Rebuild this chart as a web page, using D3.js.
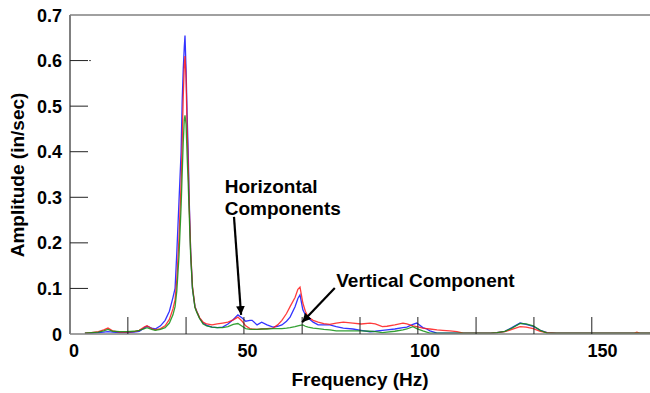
<!DOCTYPE html>
<html>
<head>
<meta charset="utf-8">
<script src="https://cdn.jsdelivr.net/npm/d3@7"></script>
<style>
  body { margin: 0; background: #fff; }
  text { font-family: "Liberation Sans", Arial, sans-serif; font-weight: bold; fill: #000; }
</style>
</head>
<body>
<div id="chart"></div>
<script>
// frequency grid (Hz)
var freq = [4.2, 6, 8, 9.5, 10.7, 12, 14, 16, 18, 19.5, 21, 21.7, 23, 24, 25.5, 26.8, 28, 29, 29.6, 30.1,
  30.7, 31.3, 31.6, 31.9, 32.2, 32.4, 32.7, 33, 33.3, 33.6, 34, 34.5, 35.2, 35.7, 36.5, 37.5, 38.5, 40, 41.5, 43,
  44.5, 46, 47.3, 48.5, 49.5, 50.7, 51.3, 52.7, 54, 55.5, 57.2, 58.5, 59.7, 61, 62, 63.4, 64.2, 64.8, 65.6, 66.3,
  67.1, 68.5, 69.9, 71.5, 73.2, 75, 77, 79.7, 82, 84.5, 86, 88, 89.3, 91.5, 93.8, 94.9, 96.6, 97.7, 99.4, 100.5,
  101.4, 103.4, 105, 107, 109, 110.8, 113, 116, 118.5, 120.3, 122.5, 124.5, 126.8, 128.5, 130.5, 132.5, 134.4, 137, 140, 145,
  150, 155, 159, 159.7, 160.5, 163.4];

// horizontal component 1 (blue)
var blueAmp = [0.002, 0.002, 0.003, 0.004, 0.005, 0.004, 0.003, 0.003, 0.004, 0.006, 0.014, 0.017, 0.013, 0.011, 0.018, 0.030, 0.050, 0.080, 0.100, 0.180,
  0.290, 0.400, 0.510, 0.580, 0.630, 0.655, 0.580, 0.480, 0.400, 0.290, 0.180, 0.100, 0.060, 0.050, 0.035, 0.024, 0.019, 0.015, 0.014, 0.015,
  0.022, 0.032, 0.042, 0.035, 0.028, 0.030, 0.030, 0.020, 0.026, 0.020, 0.015, 0.017, 0.020, 0.028, 0.037, 0.060, 0.078, 0.086, 0.053, 0.042,
  0.035, 0.026, 0.020, 0.020, 0.020, 0.016, 0.013, 0.011, 0.008, 0.005, 0.006, 0.008, 0.009, 0.011, 0.014, 0.015, 0.021, 0.024, 0.014, 0.011,
  0.007, 0.002, 0.002, 0.002, 0.002, 0.002, 0.002, 0.002, 0.002, 0.003, 0.006, 0.014, 0.024, 0.021, 0.017, 0.008, 0.003, 0.002, 0.002, 0.002,
  0.002, 0.002, 0.002, 0.002, 0.002, 0.002];

// horizontal component 2 (red)
var redAmp = [0.002, 0.003, 0.005, 0.009, 0.013, 0.007, 0.004, 0.004, 0.005, 0.008, 0.016, 0.018, 0.012, 0.009, 0.012, 0.018, 0.032, 0.055, 0.075, 0.120,
  0.210, 0.330, 0.420, 0.520, 0.590, 0.610, 0.560, 0.450, 0.370, 0.280, 0.180, 0.105, 0.060, 0.050, 0.036, 0.026, 0.022, 0.020, 0.022, 0.024,
  0.026, 0.031, 0.037, 0.028, 0.018, 0.012, 0.011, 0.010, 0.011, 0.012, 0.013, 0.020, 0.030, 0.045, 0.060, 0.080, 0.098, 0.103, 0.068, 0.050,
  0.037, 0.030, 0.026, 0.023, 0.021, 0.024, 0.026, 0.024, 0.022, 0.024, 0.022, 0.016, 0.017, 0.020, 0.024, 0.022, 0.018, 0.016, 0.013, 0.012,
  0.011, 0.009, 0.008, 0.007, 0.005, 0.002, 0.002, 0.002, 0.002, 0.003, 0.005, 0.010, 0.016, 0.015, 0.012, 0.006, 0.003, 0.002, 0.002, 0.002,
  0.002, 0.002, 0.002, 0.004, 0.002, 0.002];

// vertical component (green)
var greenAmp = [0.002, 0.003, 0.004, 0.007, 0.010, 0.006, 0.005, 0.005, 0.006, 0.008, 0.012, 0.014, 0.010, 0.008, 0.010, 0.014, 0.024, 0.042, 0.060, 0.095,
  0.170, 0.280, 0.350, 0.420, 0.470, 0.480, 0.460, 0.390, 0.330, 0.260, 0.170, 0.100, 0.058, 0.048, 0.034, 0.022, 0.018, 0.015, 0.014, 0.014,
  0.016, 0.021, 0.023, 0.017, 0.012, 0.010, 0.010, 0.010, 0.011, 0.011, 0.012, 0.012, 0.012, 0.013, 0.014, 0.016, 0.018, 0.019, 0.020, 0.017,
  0.015, 0.013, 0.012, 0.010, 0.009, 0.007, 0.007, 0.007, 0.007, 0.006, 0.005, 0.003, 0.004, 0.006, 0.009, 0.011, 0.016, 0.012, 0.007, 0.004,
  0.002, 0.002, 0.002, 0.002, 0.002, 0.002, 0.002, 0.002, 0.002, 0.003, 0.006, 0.013, 0.023, 0.022, 0.018, 0.008, 0.002, 0.002, 0.002, 0.002,
  0.002, 0.002, 0.002, 0.002, 0.002, 0.002];

var yTicks = [0, 0.1, 0.2, 0.3, 0.4, 0.5, 0.6, 0.7];
var xLabels = [0, 50, 100, 150];
var xMarks = [16.3, 32.7, 49, 65.4, 81.7, 98, 114.4, 130.7, 147];

var width = 650, height = 393;
var margin = {top: 15, right: 0, bottom: 59, left: 70};

var svg = d3.select("#chart").append("svg")
  .attr("width", width)
  .attr("height", height);

var x = d3.scaleLinear().domain([0, 163.4]).range([margin.left, width - margin.right]);
var y = d3.scaleLinear().domain([0, 0.7]).range([height - margin.bottom, margin.top]);

svg.append("defs").append("clipPath").attr("id", "clip")
  .append("rect")
  .attr("x", margin.left).attr("y", margin.top - 2)
  .attr("width", width - margin.left).attr("height", height - margin.bottom - margin.top + 2);

// frame line on top
svg.append("line")
  .attr("x1", x(0)).attr("x2", width).attr("y1", y(0.7)).attr("y2", y(0.7))
  .attr("stroke", "#808080").attr("stroke-width", 1.5);

// data lines
var line = d3.line()
  .x(function(d) { return x(d[0]); })
  .y(function(d) { return y(d[1]); });

var series = [
  {name: "blue", color: "#1010ff", vals: blueAmp},
  {name: "red", color: "#ff1a1a", vals: redAmp},
  {name: "green", color: "#129012", vals: greenAmp}
];

var plot = svg.append("g").attr("clip-path", "url(#clip)");
series.forEach(function(s) {
  plot.append("path")
    .datum(freq.map(function(f, i) { return [f, s.vals[i]]; }))
    .attr("fill", "none")
    .attr("stroke", s.color)
    .attr("stroke-width", 1.3)
    .attr("stroke-opacity", 0.85)
    .attr("d", line);
});

// axes
svg.append("line")
  .attr("x1", x(0)).attr("x2", x(0)).attr("y1", y(0.7)).attr("y2", y(0))
  .attr("stroke", "#808080").attr("stroke-width", 2);
svg.append("line")
  .attr("x1", x(0)).attr("x2", width).attr("y1", y(0)).attr("y2", y(0))
  .attr("stroke", "#808080").attr("stroke-width", 1.5);

// y ticks (inside)
svg.selectAll(".ytick")
  .data(yTicks.filter(function(d) { return d > 0 && d < 0.7; }))
  .enter().append("line")
  .attr("x1", x(0)).attr("x2", x(0) + 18)
  .attr("y1", function(d) { return y(d); }).attr("y2", function(d) { return y(d); })
  .attr("stroke", "#222").attr("stroke-width", 1);
svg.append("line")
  .attr("x1", x(0) + 19).attr("x2", x(0) + 21)
  .attr("y1", y(0.6)).attr("y2", y(0.6))
  .attr("stroke", "#555").attr("stroke-width", 1);

svg.selectAll(".ylab")
  .data(yTicks)
  .enter().append("text")
  .attr("x", 62)
  .attr("y", function(d) { return y(d) + 6.5; })
  .attr("text-anchor", "end")
  .style("font-size", "18px")
  .text(function(d) { return d === 0 ? "0" : d.toFixed(1); });

// x tick marks (inside, upward)
svg.selectAll(".xtick")
  .data(xMarks)
  .enter().append("line")
  .attr("x1", function(d) { return x(d); }).attr("x2", function(d) { return x(d); })
  .attr("y1", y(0)).attr("y2", y(0) - 17)
  .attr("stroke", "#222").attr("stroke-width", 1);

svg.selectAll(".xlab")
  .data(xLabels)
  .enter().append("text")
  .attr("x", function(d) { return x(d) + (d === 0 ? 4 : 0); })
  .attr("y", 357)
  .attr("text-anchor", "middle")
  .style("font-size", "18px")
  .text(function(d) { return d; });

// axis titles
svg.append("text")
  .attr("x", 360).attr("y", 386)
  .attr("text-anchor", "middle")
  .style("font-size", "19px")
  .text("Frequency (Hz)");

svg.append("text")
  .attr("transform", "translate(24,175) rotate(-90)")
  .attr("text-anchor", "middle")
  .style("font-size", "19px")
  .text("Amplitude (in/sec)");

// annotations
var defs = svg.select("defs");
defs.append("marker")
  .attr("id", "arrow")
  .attr("viewBox", "0 0 10 10")
  .attr("refX", 10).attr("refY", 5)
  .attr("markerWidth", 4).attr("markerHeight", 4)
  .attr("orient", "auto")
  .append("path")
  .attr("d", "M0,0 L10,5 L0,10 z")
  .attr("fill", "#000");

var notes = [
  {lines: ["Horizontal", "Components"], tx: 43.6, ty: 0.309, from: [46.2, 0.257], to: [48.2, 0.042]},
  {lines: ["Vertical Component"], tx: 75.0, ty: 0.103, from: [74.6, 0.101], to: [65.4, 0.026]}
];

notes.forEach(function(n) {
  var t = svg.append("text")
    .attr("x", x(n.tx)).attr("y", y(n.ty))
    .style("font-size", "19px");
  n.lines.forEach(function(l, i) {
    t.append("tspan").attr("x", x(n.tx)).attr("dy", i === 0 ? 0 : 22).text(l);
  });
  svg.append("line")
    .attr("x1", x(n.from[0])).attr("y1", y(n.from[1]))
    .attr("x2", x(n.to[0])).attr("y2", y(n.to[1]))
    .attr("stroke", "#000").attr("stroke-width", 2.2)
    .attr("marker-end", "url(#arrow)");
});
</script>
</body>
</html>
